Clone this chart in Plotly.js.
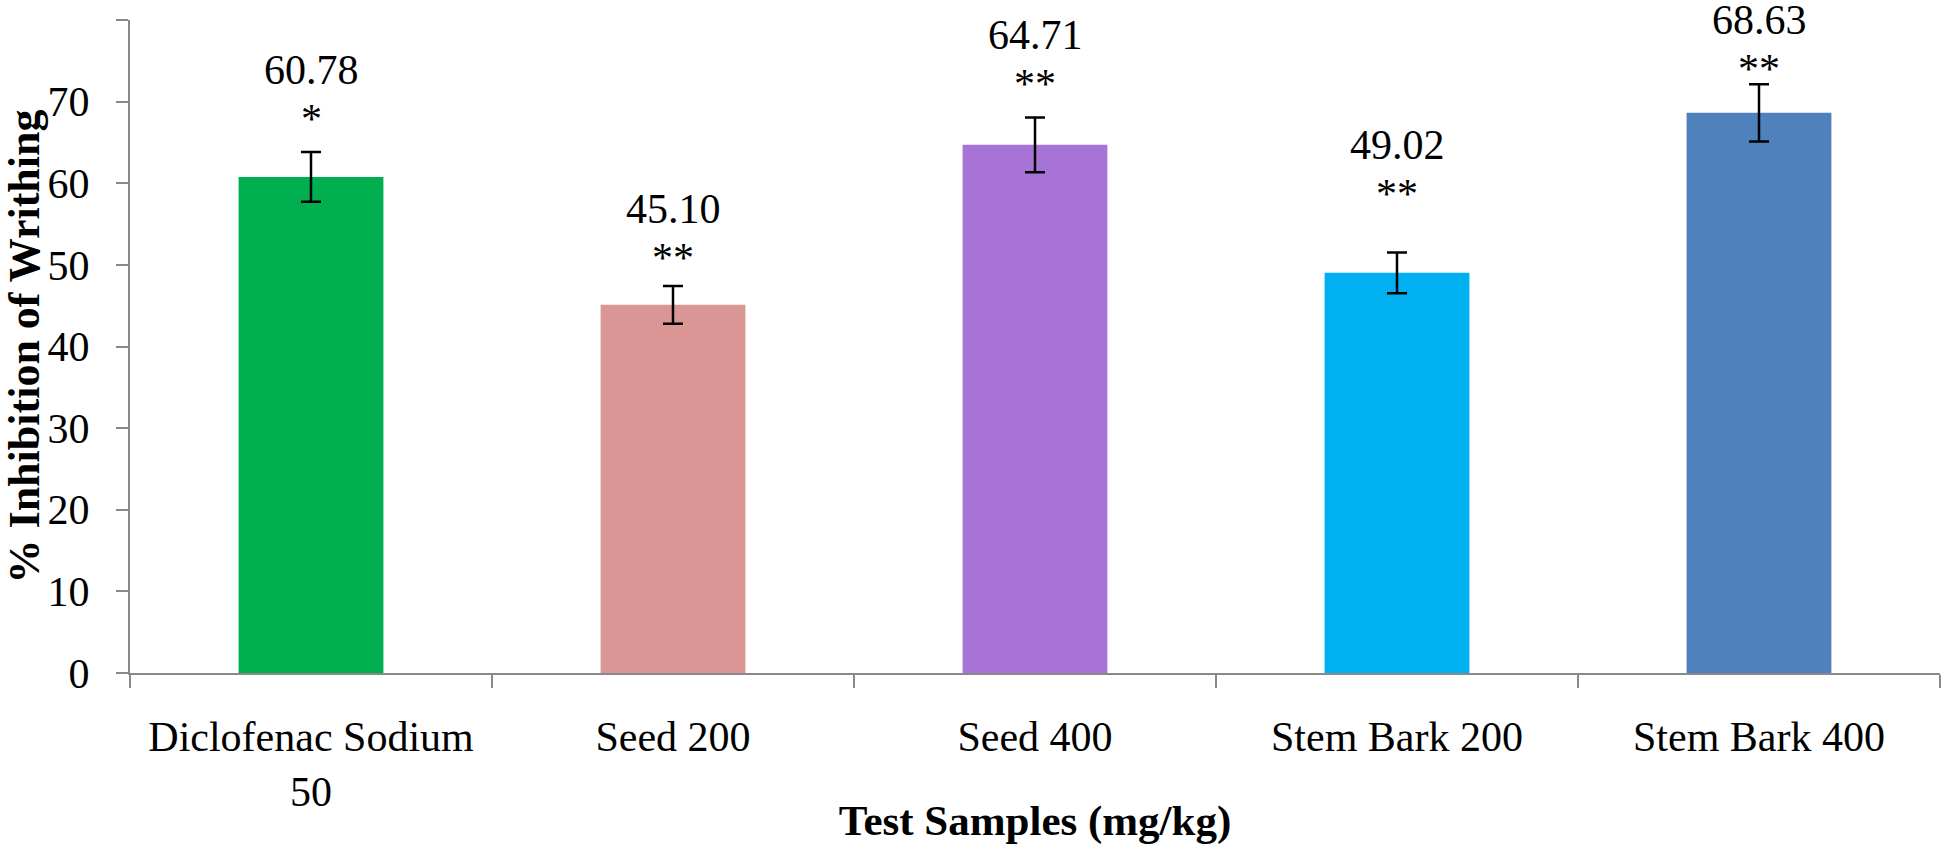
<!DOCTYPE html>
<html>
<head>
<meta charset="utf-8">
<script src="https://cdn.plot.ly/plotly-3.0.1.min.js"></script>
<style>
html,body{margin:0;padding:0;background:#fff;}
#chart{width:1946px;height:845px;}
#warm{position:absolute;left:-10000px;top:0;font-size:13px;white-space:pre-wrap;width:1500px;}
</style>
</head>
<body>
<div id="chart"></div>
<pre id="warm"></pre>
<script>
// ---- data ----
const categories = ["Diclofenac Sodium<br>50", "Seed 200", "Seed 400", "Stem Bark 200", "Stem Bark 400"];
const inhibition = [60.78, 45.10, 64.71, 49.02, 68.63];
const errors = [3.05, 2.3, 3.35, 2.5, 3.5];
const significance = ["*", "**", "**", "**", "**"];

// ---- styles ----
const barColors = ["#00B050", "#D99694", "#A873D6", "#00B0F0", "#4F81BD"];
const starLift = [39, 34, 39, 64, 21];   // px gap above the error cap (label layout)
const FONT = "Liberation Serif";

const trace = {
  type: "bar", x: categories, y: inhibition, width: 0.4,
  marker: {color: barColors, line: {width: 0}},
  error_y: {type: "data", array: errors, visible: true, color: "#000", thickness: 2.5, width: 10},
  hoverinfo: "skip"
};

const annotations = [];
categories.forEach((c, i) => {
  const top = inhibition[i] + errors[i];
  annotations.push({x: c, y: top, xref: "x", yref: "y", yanchor: "middle", showarrow: false,
    text: significance[i], yshift: starLift[i] - 6, font: {family: FONT, size: 42, color: "#000"}});
  annotations.push({x: c, y: top, xref: "x", yref: "y", yanchor: "middle", showarrow: false,
    text: inhibition[i].toFixed(2), yshift: starLift[i] + 43, font: {family: FONT, size: 42, color: "#000"}});
});

const layout = {
  width: 1946, height: 845,
  margin: {l: 130, r: 6, t: 20, b: 172},
  font: {family: FONT, size: 42, color: "#000"},
  showlegend: false,
  xaxis: {type: "category", range: [-0.5, 4.5], showline: true, linecolor: "#898989", linewidth: 2,
    ticks: "outside", tickson: "boundaries", ticklen: 13, tickcolor: "#898989", tickwidth: 2,
    tickfont: {family: FONT, size: 42, color: "#000"}, ticklabelstandoff: 26,
    showgrid: false, zeroline: false, automargin: false,
    title: {text: "<b>Test Samples (mg/kg)</b>", font: {family: FONT, size: 43, color: "#000"}, standoff: 0}},
  yaxis: {range: [0, 80], dtick: 10, showline: true, linecolor: "#898989", linewidth: 2,
    ticks: "outside", ticklen: 12, tickcolor: "#898989", tickwidth: 2,
    tickfont: {family: FONT, size: 42, color: "#000"}, ticklabelstandoff: 18,
    showgrid: false, zeroline: false, automargin: false,
    title: {text: "<b>% Inhibition of Writhing</b>", font: {family: FONT, size: 44, color: "#000"}, standoff: 2}},
  annotations: annotations
};

Plotly.newPlot("chart", [trace], layout, {displayModeBar: false, staticPlot: true}).then(() => {
  const t = document.querySelector(".xtick text");
  document.getElementById("warm").textContent = t ? t.outerHTML : "";
});
</script>
</body>
</html>
